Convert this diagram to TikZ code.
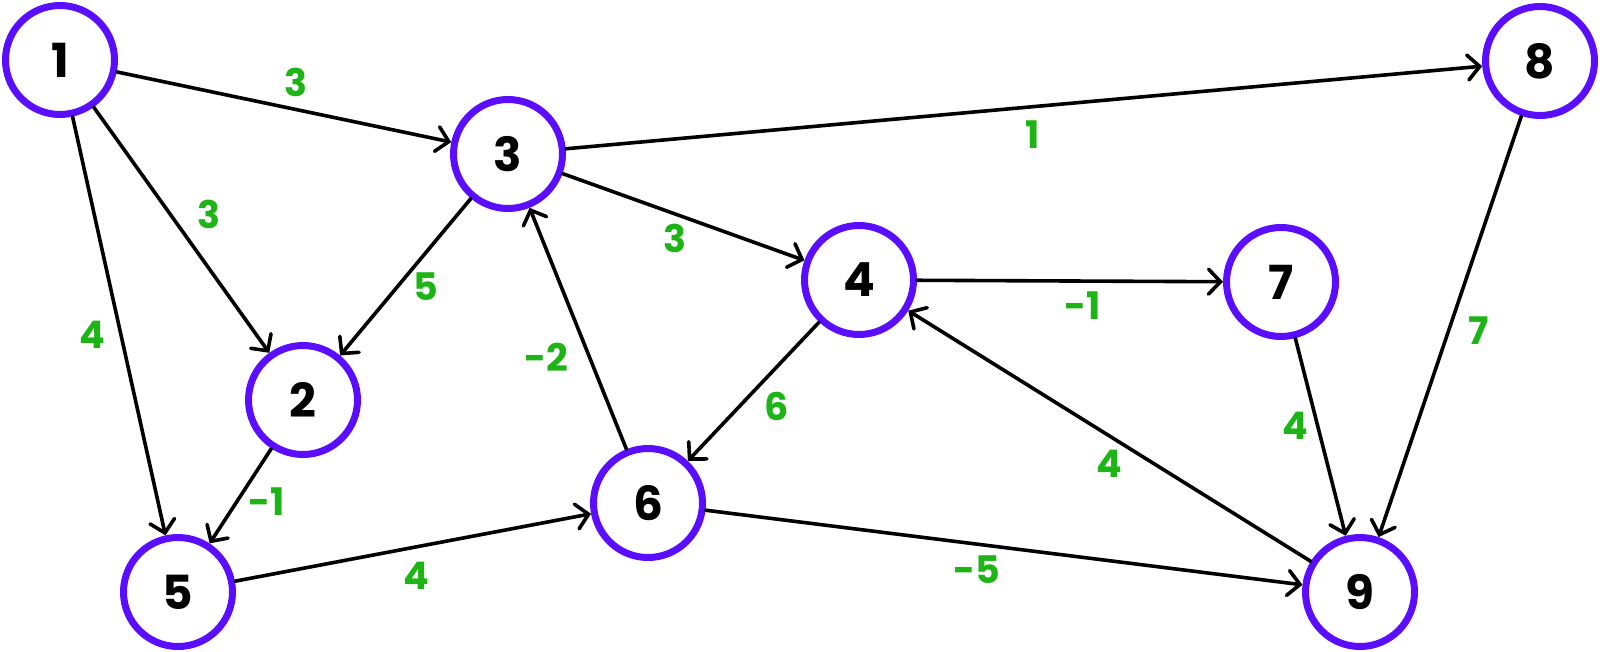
\documentclass[tikz,border=0pt]{standalone}
\usepackage{fontspec}
\setmainfont{Poppins}
\usetikzlibrary{arrows.meta}
\definecolor{nodepurple}{HTML}{5B0EFF}
\definecolor{labgreen}{HTML}{1DB416}
\begin{document}
\begin{tikzpicture}[x=1pt,y=-1pt,
  vert/.style={draw=nodepurple,line width=7pt,circle,minimum size=109pt,inner sep=0pt,fill=white,
    font=\fontsize{47}{49}\selectfont\bfseries},
  edge/.style={draw=black,line width=3.6pt,line cap=round,-{Straight Barb[length=12pt,width=25pt,line cap=round]}},
  wlab/.style={text=labgreen,inner sep=0pt,font=\fontsize{38}{40}\selectfont\bfseries}]
\useasboundingbox (0,0) rectangle (1600,652);
\node[vert] (n1) at (60,60) {1};
\node[vert] (n3) at (508,154) {3};
\node[vert] (n8) at (1540,61) {8};
\node[vert] (n4) at (859,280) {4};
\node[vert] (n7) at (1281,282) {7};
\node[vert] (n2) at (303,400) {2};
\node[vert] (n6) at (648,503) {6};
\node[vert] (n5) at (178,592) {5};
\node[vert] (n9) at (1360,592) {9};

\draw[edge] (n1) -- (n3);
\draw[edge] (n1) -- (n2);
\draw[edge] (n1) -- (n5);
\draw[edge] (n3) -- (n8);
\draw[edge] (n3) -- (n4);
\draw[edge] (n3) -- (n2);
\draw[edge] (n6) -- (n3);
\draw[edge] (n4) -- (n7);
\draw[edge] (n4) -- (n6);
\draw[edge] (n9) -- (n4);
\draw[edge] (n7) -- (n9);
\draw[edge] (n8) -- (n9);
\draw[edge] (n2) -- (n5);
\draw[edge] (n5) -- (n6);
\draw[edge] (n6) -- (n9);

\node[wlab] (w13) at (296,82) {3};
\node[wlab] (w12) at (209,214) {3};
\node[wlab] (w15) at (92,335) {4};
\node[wlab] (w38) at (1033,135) {1};
\node[wlab] (w34) at (675,238) {3};
\node[wlab] (w32) at (426,287) {5};
\node[wlab] (w63) at (546,357) {-2};
\node[wlab] (w47) at (1083,306) {-1};
\node[wlab] (w46) at (777,406) {6};
\node[wlab] (w94) at (1109,464) {4};
\node[wlab] (w79) at (1295,426) {4};
\node[wlab] (w89) at (1479,331) {7};
\node[wlab] (w25) at (267,502) {-1};
\node[wlab] (w56) at (416,576) {4};
\node[wlab] (w69) at (977,570) {-5};
\end{tikzpicture}
\end{document}
